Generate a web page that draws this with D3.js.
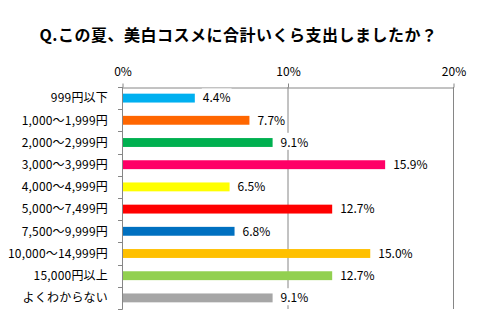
<!DOCTYPE html>
<html>
<head>
<meta charset="utf-8">
<script src="https://cdn.jsdelivr.net/npm/d3@7"></script>
<style>
  html, body { margin: 0; padding: 0; background: #fff; }
  svg { display: block; font-family: "Noto Sans CJK JP", "Noto Sans", sans-serif; }
</style>
</head>
<body>
<svg id="chart" width="492" height="336"></svg>
<script>
const title = "Q.この夏、美白コスメに合計いくら支出しましたか？";
const categories = ["999円以下", "1,000～1,999円", "2,000～2,999円", "3,000～3,999円", "4,000～4,999円",
  "5,000～7,499円", "7,500～9,999円", "10,000～14,999円", "15,000円以上", "よくわからない"];
const values = [4.4, 7.7, 9.1, 15.9, 6.5, 12.7, 6.8, 15.0, 12.7, 9.1];
const colors = ["#00B0F0", "#FF6600", "#00B050", "#FF0066", "#FFFF00", "#FF0000", "#0070C0", "#FFC000", "#92D050", "#A6A6A6"];
const tickValues = [0, 10, 20];

(function () {
const svg = d3.select("#chart");
const axisColor = "#868686";
const pLeft = 122, pRight = 453, pTop = 87, pBottom = 309;

const x = d3.scaleLinear().domain([0, 20]).range([pLeft, pRight]);
const y = d3.scaleBand().domain(categories).range([pTop, pBottom]).paddingInner(0.6).paddingOuter(0.3);

// title
svg.append("text")
  .attr("x", 238.5).attr("y", 41)
  .attr("text-anchor", "middle")
  .attr("font-size", 16).attr("font-weight", "bold")
  .attr("letter-spacing", 0.5)
  .attr("fill", "#000")
  .text(title);

// gridlines (10%, 20%)
svg.append("g").selectAll("line")
  .data(tickValues.filter(d => d > 0))
  .join("line")
  .attr("x1", d => x(d) + 0.5).attr("x2", d => x(d) + 0.5)
  .attr("y1", pTop).attr("y2", pBottom)
  .attr("stroke", axisColor).attr("stroke-width", 1);

// top axis
const xAxis = d3.axisTop(x).tickValues(tickValues).tickFormat(d => d + "%").tickSize(4).tickSizeOuter(0);
const gx = svg.append("g").attr("transform", `translate(0.5,${pTop + 0.5})`).call(xAxis);
gx.select(".domain").attr("stroke", axisColor);
gx.selectAll(".tick line").attr("stroke", axisColor);
gx.selectAll(".tick text").attr("font-size", 12).attr("fill", "#000").attr("font-family", "'Noto Sans CJK JP', sans-serif").attr("y", -12);

// left axis line and boundary ticks
const boundaries = d3.range(categories.length + 1).map(i => pTop + i * (pBottom - pTop) / categories.length);
const gy = svg.append("g");
gy.append("line")
  .attr("x1", pLeft + 0.5).attr("x2", pLeft + 0.5)
  .attr("y1", pTop).attr("y2", pBottom + 0.5)
  .attr("stroke", axisColor);
gy.selectAll("line.tk").data(boundaries).join("line").attr("class", "tk")
  .attr("x1", pLeft - 4).attr("x2", pLeft + 0.5)
  .attr("y1", d => Math.round(d) + 0.5).attr("y2", d => Math.round(d) + 0.5)
  .attr("stroke", axisColor);

// category labels
svg.append("g").selectAll("text").data(categories).join("text")
  .attr("x", 108)
  .attr("y", d => y(d) + y.bandwidth() / 2)
  .attr("dy", "0.36em")
  .attr("text-anchor", "end")
  .attr("font-size", 12).attr("fill", "#000")
  .attr("letter-spacing", 0.2)
  .text(d => d);

// bars
svg.append("g").selectAll("rect").data(values).join("rect")
  .attr("x", x(0) + 1)
  .attr("y", (d, i) => y(categories[i]))
  .attr("width", d => x(d) - x(0) - 1)
  .attr("height", y.bandwidth())
  .attr("fill", (d, i) => colors[i]);

// value labels with white background
const vl = svg.append("g").selectAll("g").data(values).join("g")
  .attr("transform", (d, i) => `translate(${x(d) + 8},${y(categories[i]) + y.bandwidth() / 2})`);
vl.append("text")
  .attr("dy", "0.36em")
  .attr("font-size", 12).attr("fill", "#000")
  .text(d => d.toFixed(1) + "%");
vl.each(function () {
  const g = d3.select(this);
  const bb = g.select("text").node().getBBox();
  g.insert("rect", "text")
    .attr("x", bb.x - 1).attr("y", bb.y)
    .attr("width", bb.width + 2).attr("height", bb.height)
    .attr("fill", "#fff");
});
})();
</script>
</body>
</html>
